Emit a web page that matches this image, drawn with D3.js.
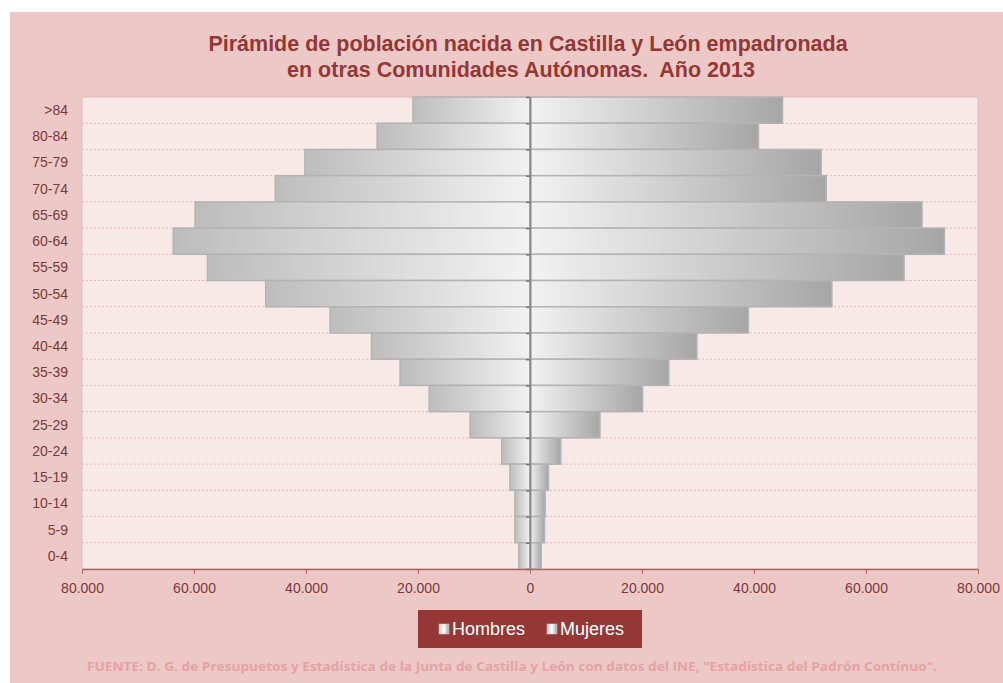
<!DOCTYPE html>
<html>
<head>
<meta charset="utf-8">
<script src="https://cdn.jsdelivr.net/npm/d3@7"></script>
<style>
  body { margin: 0; background: #fff; }
  svg { display: block; }
</style>
</head>
<body>
<script>
// datos
const grupos = [">84", "80-84", "75-79", "70-74", "65-69", "60-64", "55-59", "50-54", "45-49",
                "40-44", "35-39", "30-34", "25-29", "20-24", "15-19", "10-14", "5-9", "0-4"]
const hombres = [20900, 27300, 40200, 45500, 59800, 63700, 57600, 47200, 35700,
                 28300, 23200, 18000, 10700, 5050, 3600, 2700, 2700, 2000]
const mujeres = [45100, 40800, 52000, 52900, 70000, 74000, 66800, 53900, 39000,
                 29800, 24800, 20100, 12500, 5500, 3300, 2700, 2600, 2000]
const ticksX = [-80000, -60000, -40000, -20000, 0, 20000, 40000, 60000, 80000]

var w = 1003
var h = 683
var pLeft = 82, pRight = 978, pTop = 97, pBottom = 569

var svg = d3.select("body")
            .append("svg")
            .attr("width", w)
            .attr("height", h)

// fondo
svg.append("rect")
   .attr("x", 10).attr("y", 12)
   .attr("width", w - 10).attr("height", h - 12)
   .attr("fill", "#ecc8c7")

var defs = svg.append("defs")
var gH = defs.append("linearGradient").attr("id", "gradH")
gH.append("stop").attr("offset", "0%").attr("stop-color", "#bdbdbd")
gH.append("stop").attr("offset", "100%").attr("stop-color", "#f2f2f2")
var gM = defs.append("linearGradient").attr("id", "gradM")
gM.append("stop").attr("offset", "0%").attr("stop-color", "#f2f2f2")
gM.append("stop").attr("offset", "100%").attr("stop-color", "#a6a6a6")
var gL = defs.append("linearGradient").attr("id", "gradL")
gL.append("stop").attr("offset", "0%").attr("stop-color", "#c8c8c8")
gL.append("stop").attr("offset", "50%").attr("stop-color", "#ffffff")
gL.append("stop").attr("offset", "100%").attr("stop-color", "#a0a0a0")

// titulo
var title = svg.append("text")
   .attr("text-anchor", "middle")
   .attr("font-family", "Liberation Sans, Arial, sans-serif")
   .attr("font-weight", "bold")
   .attr("font-size", 21.5)
   .attr("fill", "#953735")
   .style("white-space", "pre")
title.append("tspan").attr("x", 528).attr("y", 51)
     .text("Pirámide de población nacida en Castilla y León empadronada")
title.append("tspan").attr("x", 521).attr("y", 77)
     .text("en otras Comunidades Autónomas.  Año 2013")

// area del grafico
svg.append("rect")
   .attr("x", pLeft).attr("y", pTop)
   .attr("width", pRight - pLeft).attr("height", pBottom - pTop)
   .attr("fill", "#f8e9e9")
   .attr("stroke", "#e8b8b8")
   .attr("stroke-width", 1)

const xScale = d3.scaleLinear()
    .domain([-80000, 80000])
    .range([pLeft, pRight])

const yScale = d3.scaleBand()
    .domain(grupos)
    .range([pTop, pBottom])
    .paddingInner(0)

// lineas de cuadricula
svg.selectAll("line.grid")
   .data(grupos.slice(1))
   .enter()
   .append("line")
   .attr("class", "grid")
   .attr("x1", pLeft).attr("x2", pRight)
   .attr("y1", d => yScale(d)).attr("y2", d => yScale(d))
   .attr("stroke", "#ebb8b8")
   .attr("stroke-width", 1)
   .attr("stroke-dasharray", "2,2")

// barras hombres
svg.selectAll("rect.hombres")
   .data(hombres)
   .enter()
   .append("rect")
   .attr("class", "hombres")
   .attr("x", d => xScale(-d))
   .attr("y", (d, i) => yScale(grupos[i]))
   .attr("width", d => xScale(0) - xScale(-d))
   .attr("height", yScale.bandwidth())
   .attr("fill", "url(#gradH)")
   .attr("stroke", "#b4b4b4")
   .attr("stroke-width", 1.5)

// barras mujeres
svg.selectAll("rect.mujeres")
   .data(mujeres)
   .enter()
   .append("rect")
   .attr("class", "mujeres")
   .attr("x", xScale(0))
   .attr("y", (d, i) => yScale(grupos[i]))
   .attr("width", d => xScale(d) - xScale(0))
   .attr("height", yScale.bandwidth())
   .attr("fill", "url(#gradM)")
   .attr("stroke", "#b4b4b4")
   .attr("stroke-width", 1.5)

// eje x
const fmt = d => d3.format(",")(Math.abs(d)).replace(/,/g, ".")
const xAxis = d3.axisBottom(xScale).tickValues(ticksX).tickFormat(fmt).tickSize(5).tickSizeOuter(0)
var gx = svg.append("g")
   .attr("id", "x-axis")
   .attr("transform", "translate(0," + pBottom + ")")
   .call(xAxis)
gx.select(".domain").attr("stroke", "#c0605e").attr("stroke-width", 1.5)
gx.selectAll(".tick line").attr("stroke", "#c0605e")
gx.selectAll(".tick text")
  .attr("dy", "1.15em")
  .attr("font-family", "Liberation Sans, Arial, sans-serif")
  .attr("font-size", 14)
  .attr("fill", "#7b3a39")

// etiquetas eje y
svg.selectAll("text.ylab")
   .data(grupos)
   .enter()
   .append("text")
   .attr("class", "ylab")
   .attr("x", 68)
   .attr("y", d => yScale(d) + yScale.bandwidth() / 2)
   .attr("dy", "0.35em")
   .attr("text-anchor", "end")
   .attr("font-family", "Liberation Sans, Arial, sans-serif")
   .attr("font-size", 14)
   .attr("fill", "#7b3a39")
   .text(d => d)

// eje central
const yAxis = d3.axisLeft(d3.scaleLinear().domain([0, grupos.length]).range([pBottom, pTop]))
    .ticks(grupos.length).tickFormat("").tickSize(4).tickSizeOuter(0)
var gy = svg.append("g")
   .attr("transform", "translate(" + xScale(0) + ",0)")
   .call(yAxis)
gy.select(".domain").attr("stroke", "#8a8a8a").attr("stroke-width", 2)
gy.selectAll(".tick line").attr("stroke", "#7a7a7a").attr("stroke-width", 1.5)

// leyenda
var leg = svg.append("g")
leg.append("rect")
   .attr("x", 418).attr("y", 610)
   .attr("width", 224).attr("height", 38)
   .attr("fill", "#953735")
const series = ["Hombres", "Mujeres"]
const legX = [439, 547]
series.forEach((s, i) => {
    leg.append("rect")
       .attr("x", legX[i]).attr("y", 624)
       .attr("width", 10).attr("height", 10)
       .attr("fill", "url(#gradL)")
       .attr("stroke", "#d0d0d0")
       .attr("stroke-width", 0.5)
    leg.append("text")
       .attr("x", legX[i] + 13).attr("y", 635)
       .attr("font-family", "Liberation Sans, Arial, sans-serif")
       .attr("font-size", 18)
       .attr("fill", "#ffffff")
       .text(s)
})

// fuente
svg.append("text")
   .attr("x", 512).attr("y", 671)
   .attr("text-anchor", "middle")
   .attr("font-family", "Open Sans, sans-serif")
   .attr("font-weight", "bold")
   .attr("font-size", 12)
   .attr("fill", "#e6a3a2")
   .attr("textLength", 850)
   .attr("lengthAdjust", "spacingAndGlyphs")
   .text("FUENTE: D. G. de Presupuetos y Estadística de la Junta de Castilla y León con datos del INE, \"Estadística del Padrón Contínuo\".")
</script>
</body>
</html>
